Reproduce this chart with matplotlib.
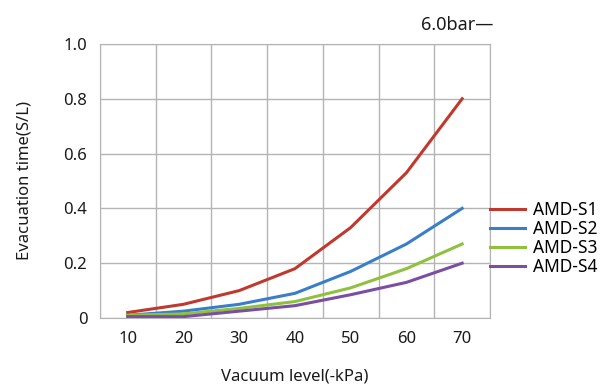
import numpy as np
import matplotlib
matplotlib.use('Agg')
import matplotlib.pyplot as plt

plt.rcParams['font.family'] = ['Noto Sans', 'DejaVu Sans']

vacuum = ['10', '20', '30', '40', '50', '60', '70']
s1 = [0.02, 0.05, 0.10, 0.18, 0.33, 0.53, 0.80]
s2 = [0.01, 0.025, 0.05, 0.09, 0.17, 0.27, 0.40]
s3 = [0.01, 0.015, 0.035, 0.06, 0.11, 0.18, 0.27]
s4 = [0.005, 0.005, 0.025, 0.045, 0.085, 0.13, 0.20]
names = ['AMD-S1', 'AMD-S2', 'AMD-S3', 'AMD-S4']
colors = ['#c0392f', '#3a7dc9', '#8fc13e', '#7a4ea0']

fig = plt.figure(figsize=(6.05, 3.85), dpi=100)
ax = fig.add_axes([0.165, 0.174, 0.645, 0.712])

x = np.arange(len(vacuum))
for ys, name, c in zip([s1, s2, s3, s4], names, colors):
    ax.plot(x, ys, color=c, lw=2.2, label=name)

ax.set_xlim(-0.5, len(vacuum) - 0.5)
ax.set_ylim(0, 1.0)
ax.set_xticks(x)
ax.set_xticklabels(vacuum)
ax.set_xticks(np.arange(-0.5, len(vacuum)), minor=True)
ax.set_yticks([0, 0.2, 0.4, 0.6, 0.8, 1.0])
ax.set_yticklabels(['0', '0.2', '0.4', '0.6', '0.8', '1.0'])
ax.grid(True, which='minor', axis='x', color='#b4b4b4', lw=1)
ax.grid(True, which='major', axis='y', color='#b4b4b4', lw=1)
ax.tick_params(which='both', length=0, labelsize=12, colors='#1a1a1a', pad=9)
for sp in ax.spines.values():
    sp.set_color('#b4b4b4')

ax.set_xlabel('Vacuum level(-kPa)', fontsize=12, color='#1a1a1a', labelpad=16)
ax.set_ylabel('Evacuation time(S/L)', fontsize=12, color='#1a1a1a', labelpad=22)
fig.text(0.815, 0.935, '6.0bar—', ha='right', va='center', fontsize=13, color='#1a1a1a')

ax.legend(loc='center left', bbox_to_anchor=(1.0, 0.29), frameon=False,
          fontsize=12.5, handlelength=2.0, handletextpad=0.45, labelspacing=0.05,
          borderaxespad=0, borderpad=0)

fig.savefig('out.png', dpi=100)
